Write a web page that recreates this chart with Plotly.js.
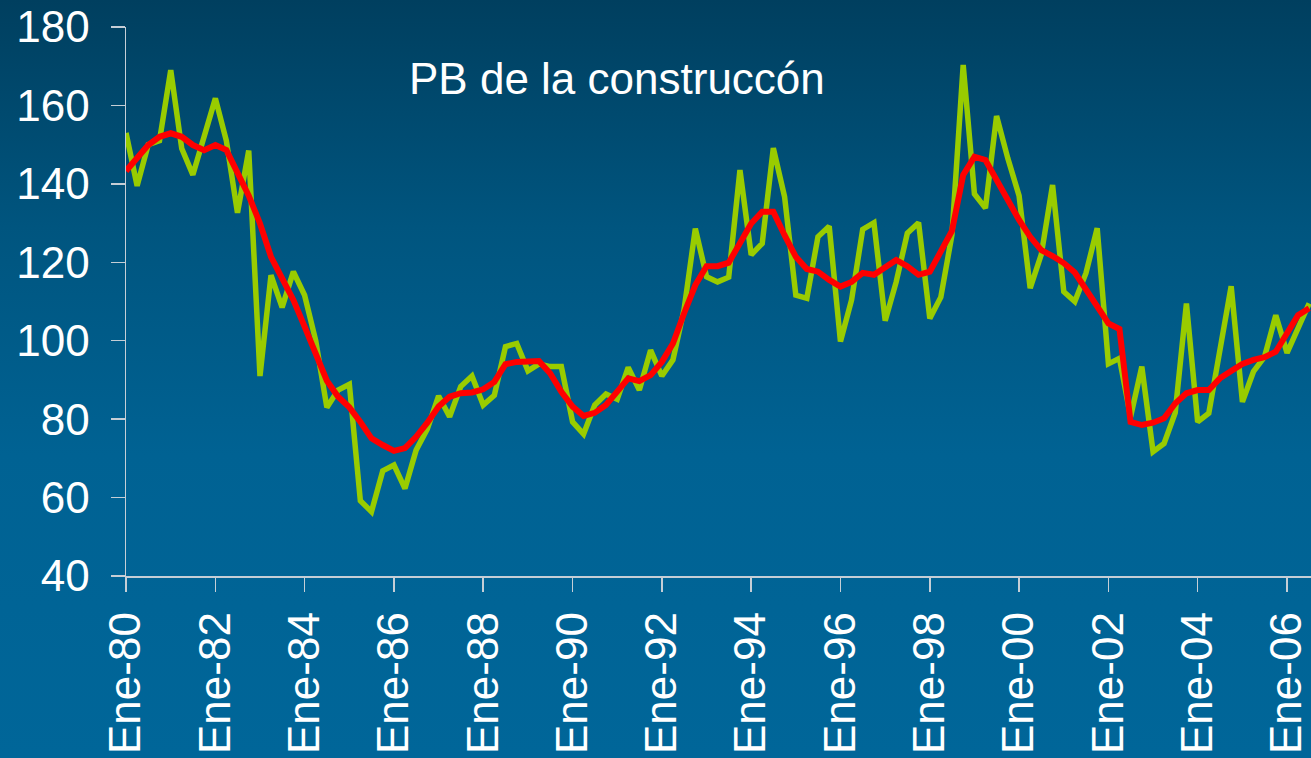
<!DOCTYPE html>
<html>
<head>
<meta charset="utf-8">
<script src="https://cdn.plot.ly/plotly-3.0.1.min.js"></script>
<style>
html, body { margin:0; padding:0; width:1311px; height:758px; overflow:hidden;
  background: linear-gradient(to bottom, #003f5f 0%, #00557f 30%, #006293 60%, #006699 100%); }
#chart { width:1311px; height:758px; }
</style>
</head>
<body>
<div id="chart"></div>
<script>
// Quarterly series, 1980 Q1 to 2006 Q3
const startYear = 1980;
const pib = [
  153, 139.5, 150, 151, 169, 149, 142.3, 152, 161.8, 151,
  132.6, 148.5, 91, 116.7, 108.5, 117.6, 111.6, 100, 83, 87.4,
  88.9, 59.2, 56.4, 66.8, 68.3, 62.3, 72.1, 77.5, 85.9, 80.6,
  88.3, 91, 83.6, 86.1, 98.5, 99.3, 92.3, 94.1, 93.4, 93.4,
  79.3, 76.2, 83.6, 86.4, 85.1, 93.2, 87.4, 97.6, 91, 95.1,
  108, 128.6, 116.3, 115, 116.2, 143.5, 121.9, 124.8, 149.1, 136.7,
  111.6, 110.8, 126.5, 129.2, 99.8, 110.4, 128.4, 130.1, 105.1, 115,
  127.4, 130.1, 105.7, 111.1, 127, 170.3, 137.4, 133.8, 157.3, 146.5,
  137, 113.4, 122, 139.7, 112.5, 110, 117.2, 128.7, 94.1, 95.5,
  80.6, 93.4, 71.7, 73.8, 81.6, 109.5, 79.3, 81.5, 97, 113.9,
  84.4, 92.1, 95.9, 106.5, 96.9, 103, 109.5
];
const tendencia = [
  143.3, 146.5, 149.9, 152, 152.9, 152, 149.9, 148.6, 149.9, 148.6,
  142.7, 137, 129.9, 121.4, 115.9, 110.4, 103.6, 96.8, 89.8, 85.7,
  83, 79.3, 75.1, 73.4, 71.9, 72.6, 75.5, 79.1, 83.2, 85.7,
  86.6, 86.8, 87.6, 89.5, 94, 94.6, 94.8, 94.8, 91.7, 87,
  83.2, 80.8, 81.6, 83.6, 87, 90.4, 89.7, 91.2, 94.6, 99.3,
  107, 114.2, 119, 119, 119.9, 124.8, 129.9, 132.9, 132.9, 126.9,
  121.4, 118.3, 117.6, 115.5, 113.8, 115, 117.3, 116.8, 118.5, 120.6,
  119, 116.8, 117.6, 122.7, 128, 142.3, 146.9, 146.1, 141, 135.5,
  130.8, 126.5, 123.1, 121.6, 119.8, 117.4, 112.9, 108.3, 104.4, 103,
  79.3, 78.5, 79.1, 80.2, 84, 86.6, 87.4, 87.4, 90.4, 92.3,
  94.1, 95.1, 95.8, 97.2, 101.9, 106.5, 108.3
];
const tickVals = ['1980-01-01','1982-01-01','1984-01-01','1986-01-01','1988-01-01','1990-01-01','1992-01-01',
  '1994-01-01','1996-01-01','1998-01-01','2000-01-01','2002-01-01','2004-01-01','2006-01-01'];
const tickText = ['Ene-80','Ene-82','Ene-84','Ene-86','Ene-88','Ene-90','Ene-92',
  'Ene-94','Ene-96','Ene-98','Ene-00','Ene-02','Ene-04','Ene-06'];

// quarter dates
const quarters = pib.map((_, i) => {
  const y = startYear + Math.floor(i / 4);
  const m = ['01','04','07','10'][i % 4];
  return y + '-' + m + '-01';
});

const font = 'Liberation Sans, Arial, sans-serif';
const axisCol = '#c5ced6';

const data = [
  { x: quarters, y: pib, type: 'scatter', mode: 'lines',
    line: { color: '#99cc00', width: 5.5 }, hoverinfo: 'x+y', showlegend: false },
  { x: quarters, y: tendencia, type: 'scatter', mode: 'lines',
    line: { color: '#ff0000', width: 6 }, hoverinfo: 'x+y', showlegend: false }
];

const layout = {
  width: 1311, height: 758,
  margin: { l: 126, r: 0, t: 27, b: 182, pad: 0 },
  paper_bgcolor: 'rgba(0,0,0,0)',
  plot_bgcolor: 'rgba(0,0,0,0)',
  showlegend: false,
  xaxis: {
    type: 'date',
    range: ['1980-01-01', '2006-07-16'],
    tickmode: 'array', tickvals: tickVals, ticktext: tickText,
    tickangle: -90,
    ticks: 'outside', ticklen: 14, tickwidth: 1.5, tickcolor: axisCol,
    ticklabelstandoff: 3,
    showline: true, linecolor: axisCol, linewidth: 1.5,
    showgrid: false, zeroline: false,
    tickfont: { family: font, size: 44, color: '#ffffff' }
  },
  yaxis: {
    range: [40, 180], tick0: 40, dtick: 20,
    ticks: 'outside', ticklen: 14, tickwidth: 1.5, tickcolor: axisCol,
    ticklabelstandoff: 12,
    showline: true, linecolor: axisCol, linewidth: 1.5,
    showgrid: false, zeroline: false,
    tickfont: { family: font, size: 44, color: '#ffffff' }
  },
  annotations: [{
    text: 'PB de la construccón', xref: 'paper', yref: 'paper',
    x: 0.414, y: 0.906, xanchor: 'center', yanchor: 'middle', showarrow: false,
    font: { family: font, size: 44, color: '#ffffff' }
  }]
};

Plotly.newPlot('chart', data, layout, { displayModeBar: false, staticPlot: true });
</script>
</body>
</html>
